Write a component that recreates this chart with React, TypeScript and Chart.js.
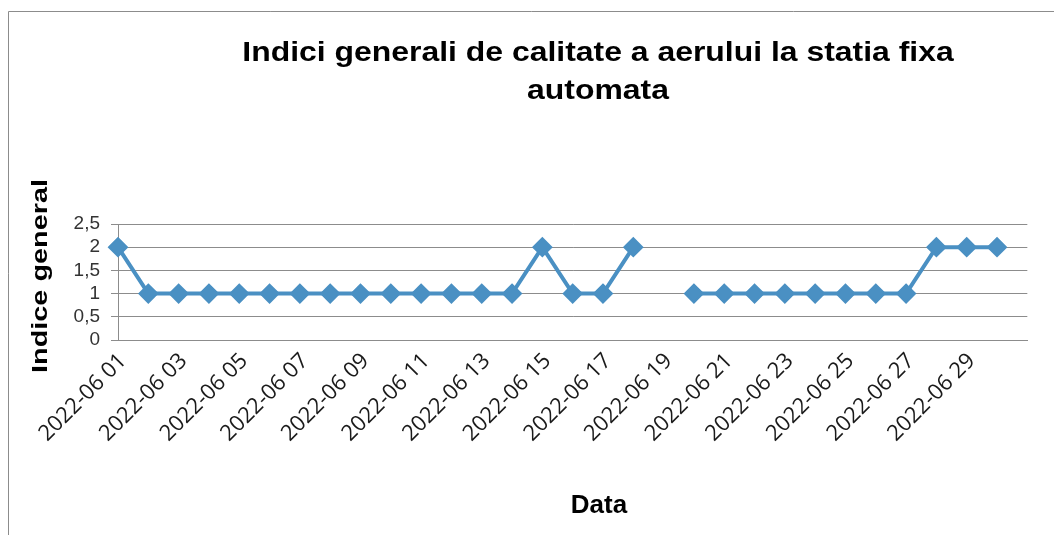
import React, { useEffect, useRef } from 'react';
import { Chart, registerables } from 'chart.js';

Chart.register(...registerables);

const categories: string[] = [
  '2022-06 01', '2022-06 02', '2022-06 03', '2022-06 04', '2022-06 05',
  '2022-06 06', '2022-06 07', '2022-06 08', '2022-06 09', '2022-06 10',
  '2022-06 11', '2022-06 12', '2022-06 13', '2022-06 14', '2022-06 15',
  '2022-06 16', '2022-06 17', '2022-06 18', '2022-06 19', '2022-06 20',
  '2022-06 21', '2022-06 22', '2022-06 23', '2022-06 24', '2022-06 25',
  '2022-06 26', '2022-06 27', '2022-06 28', '2022-06 29', '2022-06 30',
  '',
];

const indiceGeneral: (number | null)[] = [
  2, 1, 1, 1, 1, 1, 1, 1, 1, 1,
  1, 1, 1, 1, 2, 1, 1, 2, null, 1,
  1, 1, 1, 1, 1, 1, 1, 2, 2, 2,
  null,
];

const yMin = 0;
const yMax = 2.5;
const yStep = 0.5;

const titleLines: string[] = ['Indici generali de calitate a aerului la statia fixa', 'automata'];
const xTitle = 'Data';
const yTitle = 'Indice general';

const LINE_COLOR = '#4A90C3';
const GRID_COLOR = '#8C8C8C';

function drawText(
  ctx: CanvasRenderingContext2D,
  text: string,
  x: number,
  y: number,
  font: string,
  stretch: number,
  rot: number,
) {
  ctx.save();
  ctx.font = font;
  ctx.fillStyle = '#000000';
  ctx.textAlign = 'center';
  ctx.textBaseline = 'alphabetic';
  ctx.translate(x, y);
  ctx.rotate(rot);
  ctx.scale(stretch, 1);
  ctx.fillText(text, 0, 0);
  ctx.restore();
}

const decorPlugin = {
  id: 'decor',
  afterDraw(chart: any) {
    const ctx: CanvasRenderingContext2D = chart.ctx;
    ctx.save();
    ctx.strokeStyle = GRID_COLOR;
    ctx.lineWidth = 1;
    ctx.beginPath();
    ctx.moveTo(8.5, 600);
    ctx.lineTo(8.5, 11.5);
    ctx.lineTo(1100, 11.5);
    ctx.stroke();
    ctx.restore();

    const titleFont = 'bold 28px "Liberation Sans", Arial, sans-serif';
    drawText(ctx, titleLines[0], 598, 61, titleFont, 1.14, 0);
    drawText(ctx, titleLines[1], 598, 99, titleFont, 1.14, 0);
    drawText(ctx, xTitle, 599, 513, 'bold 26px "Liberation Sans", Arial, sans-serif', 1, 0);
    ctx.save();
    ctx.font = 'bold 22px "Liberation Sans", Arial, sans-serif';
    const w = ctx.measureText(yTitle).width;
    ctx.restore();
    drawText(ctx, yTitle, 47, 276, 'bold 22px "Liberation Sans", Arial, sans-serif', 194 / w, -Math.PI / 2);
  },
};

export default function App() {
  const canvasRef = useRef<HTMLCanvasElement | null>(null);

  useEffect(() => {
    if (!canvasRef.current) return;
    const chart = new Chart(canvasRef.current, {
      type: 'line',
      data: {
        labels: categories,
        datasets: [
          {
            label: yTitle,
            data: indiceGeneral,
            borderColor: LINE_COLOR,
            backgroundColor: LINE_COLOR,
            borderWidth: 4,
            pointStyle: 'rectRot',
            pointRadius: 9,
            pointBorderWidth: 2,
            pointBackgroundColor: LINE_COLOR,
            pointBorderColor: LINE_COLOR,
            spanGaps: false,
            tension: 0,
          },
        ],
      },
      options: {
        animation: false,
        responsive: true,
        maintainAspectRatio: false,
        layout: { padding: { top: 224, right: 26, left: 0, bottom: 0 } },
        plugins: {
          legend: { display: false },
          title: { display: false },
          tooltip: { enabled: false },
        },
        scales: {
          x: {
            offset: false,
            grid: { display: false, drawTicks: false },
            border: { display: true, color: GRID_COLOR, width: 1 },
            ticks: {
              autoSkip: false,
              minRotation: 45,
              maxRotation: 45,
              padding: 8,
              labelOffset: 5,
              color: '#1a1a1a',
              font: { family: '"Open Sans", sans-serif', size: 22 },
              callback: function (_v: any, i: number) {
                return i % 2 === 0 ? categories[i] : '';
              },
            },
            afterFit(scale: any) {
              scale.height = 195;
            },
          },
          y: {
            min: yMin,
            max: yMax,
            grid: { color: GRID_COLOR, lineWidth: 1, tickLength: 7, drawTicks: true },
            border: { display: true, color: GRID_COLOR, width: 1 },
            ticks: {
              stepSize: yStep,
              autoSkip: false,
              padding: 11,
              color: '#333333',
              font: { family: '"Liberation Sans", Arial, sans-serif', size: 19 },
              callback: (v: any) => String(v).replace('.', ','),
            },
            afterFit(scale: any) {
              scale.width = 118;
            },
          },
        },
      },
      plugins: [decorPlugin],
    });
    return () => chart.destroy();
  }, []);

  return (
    <div style={{ position: 'absolute', left: 0, top: 0, width: 1054, height: 535, background: '#ffffff' }}>
      <canvas ref={canvasRef} />
    </div>
  );
}
